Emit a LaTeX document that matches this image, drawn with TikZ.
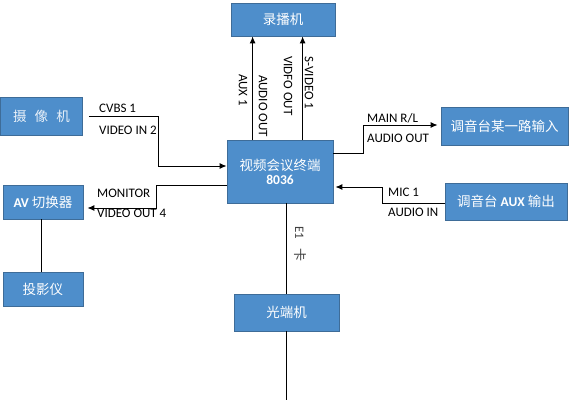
\documentclass[tikz,border=0pt]{standalone}
\usepackage{fontspec}
\setmainfont{Carlito}
\newfontfamily\cjk{Noto Sans CJK SC}
\usetikzlibrary{arrows.meta,calc}
\definecolor{boxfill}{RGB}{78,142,203}
\definecolor{boxline}{RGB}{62,108,152}
\tikzset{
  blk/.style={draw=boxline,fill=boxfill,line width=0.8pt,text=white,inner sep=0pt,
    font=\cjk\fontsize{13.5}{15}\selectfont,align=center},
  lbl/.style={font=\fontsize{13}{15}\selectfont,inner sep=0pt,text=black},
  vlbl/.style={lbl,rotate=-90},
  wire/.style={line width=1pt,black},
  arr/.style={wire,-{Latex[length=7pt,width=6pt]}},
}
\begin{document}
\begin{tikzpicture}[x=1pt,y=-1pt]
\useasboundingbox[fill=white] (0,0) rectangle (579,400);
% boxes
\node[blk,minimum width=104,minimum height=33] (rec) at (283,19.5) {录播机};
\node[blk,minimum width=106,minimum height=63] (term) at (280,171.5) {视频会议终端\\[-1pt]{\fontspec{Carlito}\bfseries 8036}};
\node[blk,minimum width=105,minimum height=37] (opt) at (286.5,312.5) {光端机};
\node[blk,minimum width=82,minimum height=38,text=white!88!boxfill] (cam) at (41.5,116) {摄\hspace{0.6em}像\hspace{0.6em}机};
\node[blk,minimum width=80,minimum height=34] (av) at (43,202) {{\fontspec{Carlito}\bfseries AV}\ 切换器};
\node[blk,minimum width=80,minimum height=34] (proj) at (43,289) {投影仪};
\node[blk,minimum width=127,minimum height=38] (mixin) at (504.5,126) {调音台某一路输入};
\node[blk,minimum width=122,minimum height=37] (mixout) at (506,201.5) {调音台 {\fontspec{Carlito}\bfseries AUX}\ 输出};
% coordinates
\coordinate (c1) at (158,166);
\coordinate (c2) at (156,208);
\coordinate (c3) at (363,125);
\coordinate (c4) at (382,187);
\coordinate (bot) at (286.5,400);
% connectors
\draw[arr] ([xshift=26]term.north west) -- ([xshift=26]term.north west |- rec.south);
\draw[arr] ([xshift=76]term.north west) -- ([xshift=76]term.north west |- rec.south);
\draw[arr] ([xshift=6]cam.east) -| (c1) -- (c1 -| term.west);
\draw[arr] (term.west |- 0,185) -| (c2) -- ([xshift=4]c2 -| av.east);
\draw[arr] (term.east |- 0,153) -| (c3) -- ([xshift=-3]c3 -| mixin.west);
\draw[arr] (mixout.west |- 0,203) -| (c4) -- ([xshift=2]c4 -| term.east);
\draw[wire] (opt.north |- term.south) -- (opt.north);
\draw[wire] (opt.south) -- (bot);
\draw[wire] (av.south -| 41,0) -- (proj.north -| 41,0);
% labels
\node[vlbl] (l1) at (243,90) {AUX 1};
\node[vlbl] (l2) at (263,106) {AUDIO OUT};
\node[vlbl] (l3) at (288,86) {VIDFO OUT};
\node[vlbl] (l4) at (309,83) {S-VIDEO 1};
\node[lbl,anchor=west] (l5) at (99,108) {CVBS 1};
\node[lbl,anchor=west] (l6) at (99,130) {VIDEO IN 2};
\node[lbl,anchor=west] (l7) at (97,193) {MONITOR};
\node[lbl,anchor=west] (l8) at (97,213) {VIDEO OUT 4};
\node[lbl,anchor=west] (l9) at (367,118) {MAIN R/L};
\node[lbl,anchor=west] (l10) at (367,138) {AUDIO OUT};
\node[lbl,anchor=west] (l11) at (388,192) {MIC 1};
\node[lbl,anchor=west] (l12) at (388,212) {AUDIO IN};
\node[vlbl,text=black!75] (l13) at (300,244) {E1\hspace{0.7em}\cjk 卡};
\end{tikzpicture}
\end{document}
